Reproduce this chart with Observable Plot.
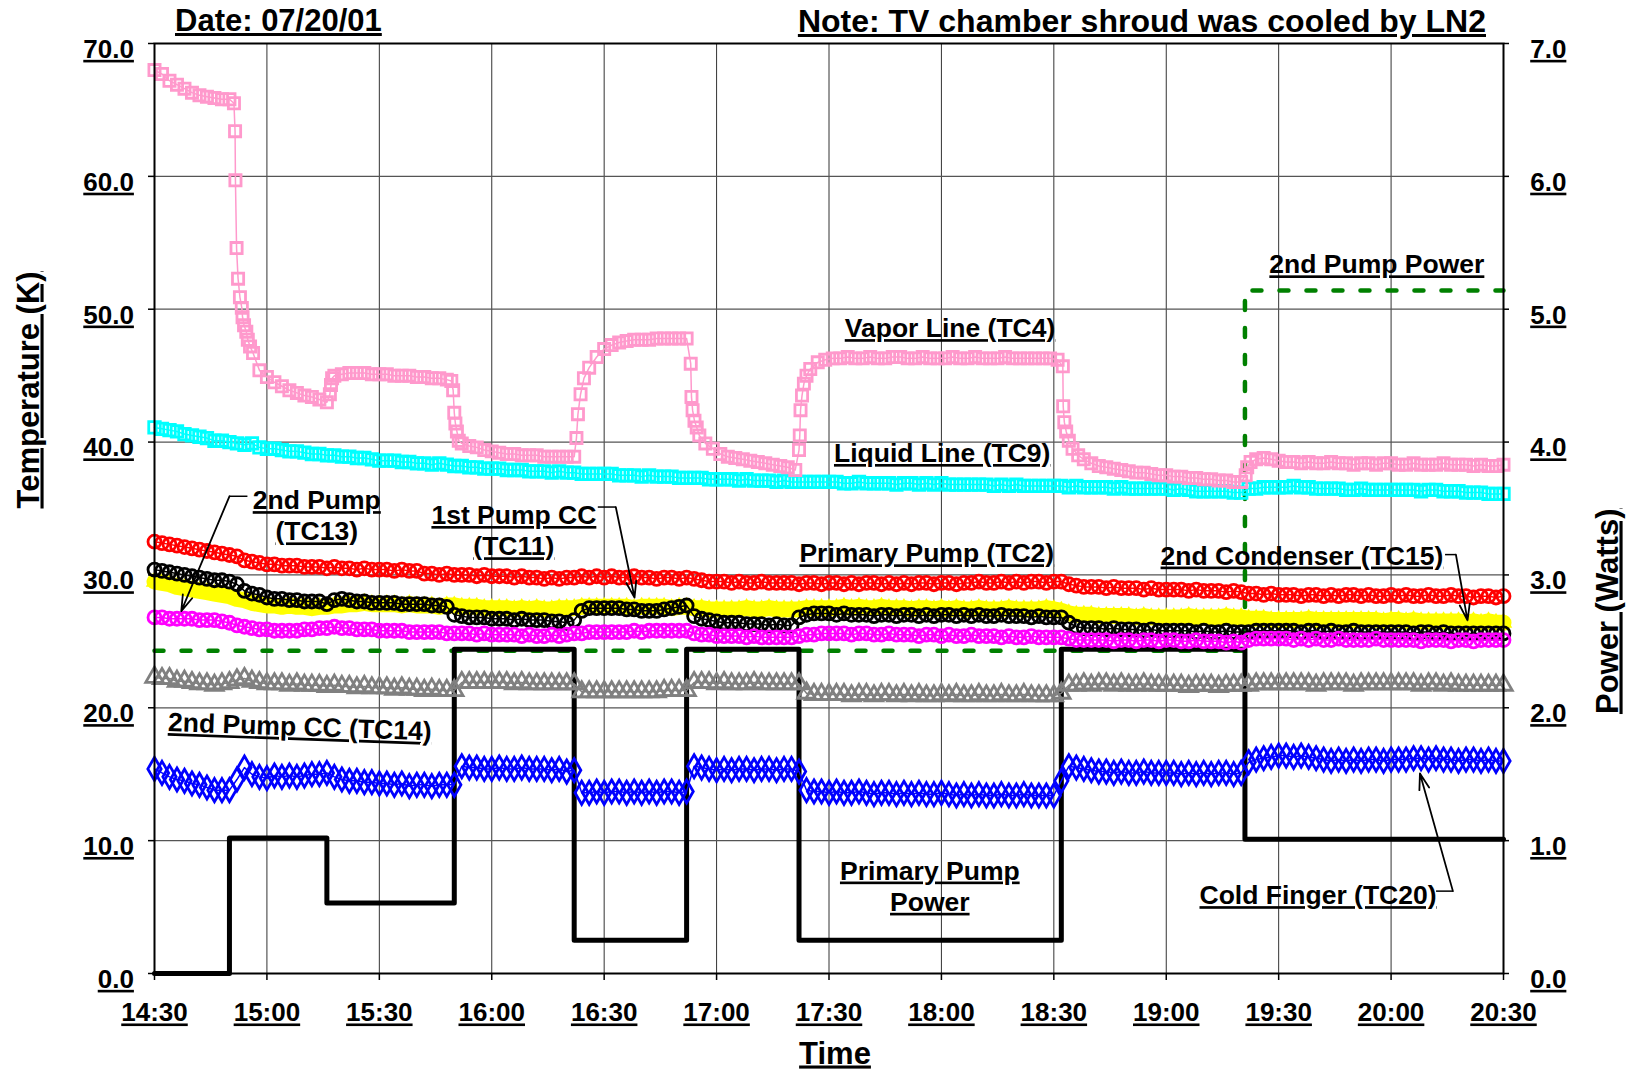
<!DOCTYPE html>
<html>
<head>
<meta charset="utf-8">
<script src="https://cdn.jsdelivr.net/npm/d3@7"></script>
<script src="https://cdn.jsdelivr.net/npm/@observablehq/plot@0.6"></script>
<style>
html, body { margin: 0; padding: 0; background: #fff; overflow: hidden; }
#header { position: relative; width: 1637px; height: 36px; font-family: "Liberation Sans", Arial, sans-serif; font-weight: bold; font-size: 31px; line-height: 36px; color: #000; }
#header span { position: absolute; top: 3px; text-decoration: underline; white-space: nowrap; }
#chart svg text { text-decoration: underline; }
</style>
</head>
<body>
<div id="header"><span style="left:175px">Date: 07/20/01</span><span style="right:151px;font-size:32px">Note: TV chamber shroud was cooled by LN2</span></div>
<div id="chart"></div>
<script>
// ---------- axes ----------
const timeTicks = [0, 30, 60, 90, 120, 150, 180, 210, 240, 270, 300, 330, 360]; // minutes after 14:30
const timeTickLabels = ["14:30","15:00","15:30","16:00","16:30","17:00","17:30","18:00","18:30","19:00","19:30","20:00","20:30"];
const tempTicks = [0, 10, 20, 30, 40, 50, 60, 70];
const tempTickLabels = ["0.0","10.0","20.0","30.0","40.0","50.0","60.0","70.0"];
const powerTickLabels = ["0.0","1.0","2.0","3.0","4.0","5.0","6.0","7.0"];
const kelvinPerWatt = 10; // right axis 0-7 W shares the 0-70 K range

// ---------- temperature series (K), logged every 2 minutes from 14:30 ----------
const sampleMinutes = d3.range(0, 361, 2);

const tc9 = [41.1,41.0,40.9,40.8,40.6,40.5,40.4,40.3,40.1,40.1,40.0,39.9,39.8,39.9,39.6,39.5,
39.5,39.4,39.3,39.3,39.2,39.1,39.1,39.0,39.0,38.9,38.9,38.8,38.8,38.7,38.6,
38.6,38.6,38.5,38.5,38.4,38.4,38.3,38.4,38.3,38.2,38.2,38.1,38.1,38.0,38.0,
38.0,37.9,37.9,37.9,37.8,37.8,37.8,37.7,37.8,37.7,37.7,37.6,37.6,37.6,37.6,
37.6,37.5,37.5,37.5,37.4,37.5,37.4,37.4,37.4,37.3,37.3,37.3,37.3,37.2,37.2,
37.2,37.2,37.1,37.2,37.1,37.1,37.1,37.0,37.1,37.0,37.0,37.0,37.0,37.0,37.0,
37.0,36.9,36.9,37.0,36.9,36.9,36.9,36.9,36.8,36.9,36.9,36.8,36.9,36.8,36.9,
36.8,36.8,36.8,36.8,36.8,36.8,36.7,36.8,36.7,36.8,36.7,36.7,36.7,36.7,36.7,
36.7,36.6,36.7,36.6,36.6,36.6,36.6,36.5,36.6,36.5,36.5,36.5,36.5,36.5,36.5,
36.4,36.5,36.4,36.3,36.3,36.3,36.3,36.3,36.2,36.2,36.5,36.5,36.6,36.6,36.6,
36.6,36.7,36.6,36.6,36.5,36.5,36.5,36.5,36.4,36.4,36.5,36.4,36.4,36.4,36.4,
36.4,36.4,36.4,36.3,36.4,36.4,36.3,36.3,36.3,36.2,36.2,36.2,36.1,36.1,36.1];

const tc2 = [32.5,32.4,32.3,32.2,32.1,32.0,31.9,31.8,31.7,31.6,31.5,31.4,31.1,31.0,30.9,30.8,
30.8,30.7,30.7,30.7,30.6,30.6,30.6,30.5,30.6,30.5,30.5,30.4,30.5,30.4,30.4,
30.4,30.3,30.4,30.3,30.3,30.1,30.1,30.0,30.1,30.0,30.0,30.0,29.9,30.0,29.9,
29.9,29.9,29.8,29.9,29.8,29.8,29.7,29.8,29.7,29.8,29.8,29.9,29.8,29.9,29.8,
29.9,29.8,29.8,29.9,29.8,29.8,29.7,29.8,29.8,29.7,29.8,29.7,29.6,29.5,29.5,
29.5,29.4,29.5,29.4,29.4,29.5,29.4,29.4,29.4,29.4,29.3,29.4,29.4,29.3,29.4,
29.4,29.3,29.4,29.3,29.4,29.4,29.3,29.4,29.3,29.4,29.3,29.4,29.4,29.3,29.4,
29.4,29.3,29.4,29.4,29.5,29.4,29.4,29.5,29.4,29.5,29.4,29.5,29.5,29.4,29.5,
29.5,29.3,29.2,29.1,29.1,29.1,29.0,29.1,29.0,29.0,29.0,28.9,29.0,28.9,28.9,
28.9,28.9,28.8,28.9,28.8,28.8,28.8,28.7,28.8,28.7,28.6,28.6,28.5,28.6,28.5,
28.5,28.5,28.4,28.5,28.5,28.4,28.5,28.4,28.5,28.5,28.4,28.5,28.4,28.4,28.5,
28.4,28.5,28.4,28.4,28.5,28.4,28.4,28.5,28.4,28.4,28.3,28.4,28.4,28.3,28.4];

const tc15 = [29.5,29.4,29.3,29.1,29.0,28.9,28.8,28.7,28.6,28.5,28.4,28.2,28.1,27.9,27.8,27.7,
27.7,27.6,27.7,27.6,27.6,27.5,27.6,27.6,27.7,27.7,27.8,27.8,27.9,27.8,27.8,
27.8,27.8,27.7,27.8,27.7,27.7,27.7,27.6,27.7,27.7,27.6,27.6,27.6,27.5,27.5,
27.5,27.5,27.4,27.5,27.4,27.5,27.4,27.4,27.5,27.5,27.5,27.6,27.6,27.6,27.6,
27.6,27.6,27.6,27.5,27.6,27.6,27.6,27.6,27.5,27.6,27.6,27.5,27.5,27.4,27.4,
27.4,27.4,27.4,27.5,27.4,27.4,27.5,27.4,27.4,27.4,27.4,27.5,27.5,27.5,27.5,
27.5,27.6,27.5,27.6,27.5,27.5,27.6,27.5,27.5,27.5,27.4,27.5,27.5,27.4,27.5,
27.4,27.5,27.4,27.4,27.5,27.4,27.4,27.4,27.5,27.4,27.4,27.4,27.4,27.5,27.4,
27.3,27.1,27.0,27.0,27.0,26.9,26.9,26.9,26.9,26.9,26.8,26.9,26.8,26.8,26.8,
26.8,26.8,26.9,26.8,26.8,26.8,26.8,26.9,26.8,26.8,26.7,26.7,26.7,26.6,26.6,
26.6,26.6,26.6,26.7,26.6,26.6,26.6,26.6,26.6,26.6,26.6,26.6,26.6,26.5,26.6,
26.6,26.5,26.6,26.5,26.5,26.5,26.5,26.5,26.5,26.4,26.5,26.4,26.5,26.4,26.4];

const tc11 = [30.4,30.3,30.2,30.1,30.0,29.9,29.8,29.7,29.6,29.6,29.5,29.3,28.8,28.6,28.5,28.3,
28.2,28.2,28.1,28.1,28.0,28.0,28.0,27.8,28.1,28.2,28.1,28.0,28.0,27.9,27.9,
27.9,27.9,27.8,27.8,27.8,27.8,27.7,27.7,27.6,27.0,26.9,26.8,26.8,26.8,26.7,
26.7,26.7,26.6,26.7,26.6,26.6,26.6,26.5,26.5,26.4,26.6,27.3,27.5,27.5,27.5,
27.5,27.5,27.4,27.4,27.3,27.3,27.3,27.4,27.5,27.6,27.7,26.9,26.7,26.6,26.5,
26.4,26.4,26.4,26.3,26.3,26.3,26.2,26.3,26.2,26.2,26.8,27.0,27.1,27.1,27.1,
27.0,27.1,27.0,27.0,27.0,26.9,27.0,27.0,26.9,27.0,27.0,26.9,27.0,26.9,27.0,
27.0,26.9,27.0,26.9,27.0,26.9,26.9,27.0,26.9,26.9,26.9,26.8,26.9,26.8,26.8,
26.8,26.4,26.1,26.0,26.0,26.0,25.9,26.0,25.9,25.9,25.9,25.8,25.9,25.8,25.8,
25.8,25.8,25.8,25.7,25.8,25.7,25.7,25.8,25.7,25.7,25.7,25.8,25.8,25.8,25.8,
25.8,25.8,25.7,25.8,25.8,25.7,25.8,25.7,25.7,25.8,25.7,25.7,25.7,25.7,25.7,
25.7,25.7,25.6,25.7,25.7,25.6,25.7,25.6,25.6,25.6,25.6,25.6,25.6,25.6,25.6];

const tc13 = [26.8,26.8,26.7,26.7,26.7,26.7,26.6,26.6,26.6,26.5,26.4,26.2,26.1,26.0,25.9,25.9,
25.8,25.8,25.8,25.8,25.9,25.9,26.0,26.0,26.1,26.0,26.0,25.9,25.9,25.9,25.8,
25.8,25.8,25.8,25.7,25.7,25.7,25.7,25.7,25.6,25.6,25.6,25.6,25.5,25.6,25.5,
25.5,25.5,25.5,25.4,25.5,25.4,25.4,25.5,25.4,25.5,25.6,25.6,25.7,25.7,25.7,
25.7,25.7,25.7,25.8,25.7,25.8,25.8,25.8,25.8,25.8,25.8,25.6,25.5,25.5,25.4,
25.4,25.4,25.4,25.3,25.4,25.3,25.3,25.3,25.3,25.3,25.4,25.5,25.5,25.6,25.6,
25.6,25.6,25.5,25.6,25.6,25.5,25.5,25.6,25.5,25.5,25.5,25.4,25.5,25.5,25.4,
25.5,25.4,25.4,25.5,25.4,25.4,25.4,25.3,25.4,25.3,25.3,25.4,25.3,25.3,25.3,
25.3,25.2,25.1,25.1,25.1,25.1,25.1,25.0,25.1,25.1,25.0,25.1,25.1,25.0,25.1,
25.1,25.0,25.0,25.1,25.0,25.0,25.0,24.9,25.0,24.9,25.1,25.2,25.2,25.2,25.2,
25.2,25.1,25.2,25.1,25.2,25.1,25.1,25.2,25.1,25.1,25.1,25.1,25.2,25.1,25.1,
25.1,25.1,25.1,25.0,25.1,25.1,25.1,25.0,25.1,25.1,25.0,25.1,25.1,25.1,25.1];

const tc14 = [22.3,22.2,22.2,22.0,22.0,21.9,21.8,21.8,21.7,21.8,21.9,22.1,22.2,22.0,21.9,21.8,
21.8,21.8,21.7,21.8,21.7,21.7,21.7,21.6,21.7,21.6,21.6,21.5,21.6,21.5,21.5,
21.5,21.4,21.5,21.4,21.4,21.3,21.4,21.3,21.3,21.3,21.9,21.9,21.9,21.9,21.9,
21.9,21.9,21.8,21.9,21.8,21.8,21.8,21.8,21.8,21.8,21.8,21.2,21.2,21.2,21.2,
21.2,21.2,21.2,21.2,21.2,21.2,21.2,21.3,21.3,21.3,21.3,21.9,21.9,21.9,21.8,
21.9,21.8,21.8,21.8,21.9,21.8,21.8,21.8,21.8,21.8,21.8,21.1,21.0,21.0,21.0,
21.0,21.0,20.9,21.0,21.0,20.9,21.0,21.0,20.9,21.0,20.9,21.0,20.9,20.9,21.0,
20.9,21.0,20.9,20.9,21.0,20.9,20.9,21.0,20.9,20.9,21.0,20.9,20.9,20.9,20.9,
21.1,21.7,21.7,21.8,21.7,21.8,21.8,21.7,21.8,21.7,21.7,21.8,21.7,21.7,21.7,
21.7,21.7,21.6,21.7,21.7,21.7,21.6,21.7,21.7,21.7,21.7,21.8,21.8,21.8,21.8,
21.8,21.8,21.8,21.8,21.7,21.8,21.8,21.8,21.8,21.7,21.8,21.8,21.8,21.8,21.8,
21.8,21.8,21.8,21.7,21.8,21.8,21.7,21.8,21.7,21.7,21.7,21.7,21.7,21.7,21.7];

const tc20 = [15.4,15.1,14.8,14.6,14.5,14.3,14.2,14.0,13.8,13.8,13.8,14.6,15.5,15.0,14.8,14.7,
14.9,14.8,14.9,14.8,14.9,15.0,15.0,15.1,14.8,14.6,14.5,14.5,14.4,14.4,14.3,
14.3,14.2,14.3,14.1,14.2,14.2,14.1,14.2,14.2,14.2,15.6,15.5,15.5,15.4,15.4,
15.5,15.4,15.4,15.5,15.4,15.4,15.4,15.3,15.4,15.2,15.3,13.6,13.6,13.7,13.6,
13.7,13.7,13.6,13.7,13.6,13.7,13.6,13.7,13.7,13.6,13.7,15.6,15.5,15.4,15.3,
15.4,15.3,15.4,15.4,15.3,15.4,15.4,15.3,15.4,15.4,15.2,13.8,13.7,13.7,13.6,
13.7,13.6,13.6,13.7,13.6,13.5,13.6,13.6,13.5,13.6,13.5,13.6,13.5,13.5,13.6,
13.5,13.4,13.5,13.4,13.5,13.4,13.4,13.5,13.4,13.4,13.5,13.4,13.4,13.4,13.4,
14.5,15.6,15.5,15.4,15.3,15.2,15.2,15.1,15.2,15.1,15.1,15.2,15.1,15.1,15.1,
15.1,15.0,15.1,15.0,15.1,15.0,15.1,15.1,15.0,15.1,15.9,16.1,16.2,16.3,16.4,
16.4,16.3,16.4,16.3,16.2,16.1,16.0,16.1,16.0,16.1,16.0,16.1,16.1,16.0,16.1,
16.1,16.1,16.2,16.2,16.1,16.2,16.1,16.1,16.0,16.1,16.1,16.0,16.1,16.0,16.0];

// Vapor line (TC4): irregular sample times (denser during the fast transitions)
const tc4Minutes = [0,2,4,6,8,10,12,14,16,18,20,
21.2,21.5,21.6,21.9,22.3,22.8,23.3,23.5,23.9,24.5,24.9,25.5,26.3,
28,30,32,34,36,38,40,42,44,46,
46.8,47.1,47.4,48,
50,52,54,56,58,60,62,64,66,68,70,72,74,76,78,79.2,
79.7,80,80.3,80.7,81.2,
82,84,86,88,90,92,94,96,98,100,102,104,106,108,110,112,
112.6,113,113.7,114.6,
116,118,120,122,124,126,128,130,132,134,136,138,140,142,
143.1,143.3,143.6,144.1,144.7,145.4,
147,149,151,153,155,157,159,161,163,165,167,169,171,
172,172.2,172.4,172.8,173.3,174,
175,177,179,181,
183,185,187,189,191,193,195,197,199,201,203,205,207,209,211,213,215,217,219,221,223,225,227,229,231,233,235,237,239,241,
242.4,242.5,242.8,243.3,244,245,246.5,
248,250,252,254,256,258,260,262,264,266,268,270,272,274,276,278,280,282,284,286,288,290,
291.2,291.6,292.5,
294,296,298,300,302,304,306,308,310,312,314,316,318,320,322,324,326,328,330,332,334,336,338,340,342,344,346,348,350,352,354,356,358,360];
const tc4 = [68.0,67.7,67.2,66.9,66.6,66.3,66.1,66.0,65.9,65.8,65.8,
65.5,63.4,59.7,54.6,52.3,50.9,50.1,49.4,48.8,48.3,47.7,47.2,46.7,
45.4,44.9,44.5,44.2,43.9,43.7,43.5,43.4,43.2,43.0,
43.6,44.3,44.8,45.0,
45.1,45.2,45.2,45.2,45.1,45.1,45.1,45.0,45.0,45.0,44.9,44.9,44.8,44.8,44.7,44.6,
43.9,42.2,41.4,40.8,40.1,
39.9,39.7,39.6,39.4,39.3,39.2,39.1,39.1,39.0,39.0,39.0,38.9,38.9,38.9,38.9,38.9,
40.3,42.1,43.6,44.8,
45.6,46.4,47.0,47.3,47.5,47.6,47.7,47.7,47.7,47.8,47.8,47.8,47.8,47.8,
45.9,43.4,42.4,41.6,41.1,40.5,
39.9,39.5,39.1,38.9,38.8,38.7,38.6,38.5,38.4,38.3,38.2,38.1,37.9,
39.4,40.5,42.4,43.5,44.4,45.0,
45.5,46.0,46.2,46.3,
46.3,46.4,46.3,46.3,46.4,46.3,46.3,46.4,46.4,46.3,46.3,46.4,46.3,46.3,46.3,46.4,46.3,46.3,46.4,46.3,46.3,46.3,46.4,46.3,46.3,46.3,46.3,46.3,46.3,46.2,
45.7,42.7,41.5,40.8,40.1,39.5,39.0,
38.7,38.4,38.2,38.1,38.0,37.9,37.8,37.7,37.7,37.6,37.5,37.5,37.4,37.4,37.3,37.3,37.2,37.2,37.1,37.1,37.0,37.0,
37.5,38.1,38.5,
38.7,38.8,38.7,38.6,38.5,38.5,38.4,38.5,38.4,38.4,38.5,38.4,38.4,38.3,38.4,38.4,38.3,38.4,38.4,38.3,38.3,38.4,38.3,38.3,38.3,38.4,38.3,38.3,38.3,38.2,38.3,38.2,38.2,38.3];

// ---------- heater power (W), step changes ----------
const primaryPowerMinutes = [0, 20, 46, 80, 112, 142, 172, 242, 291, 360];
const primaryPowerWatts   = [0, 1.02, 0.53, 2.44, 0.25, 2.44, 0.25, 2.44, 1.01, 1.01];
const secondPowerMinutes  = [0, 291, 360];
const secondPowerWatts    = [2.43, 5.14, 5.14];

// ---------- annotations (time in minutes after 14:30, temperature in K) ----------
const labelText   = ["Vapor Line (TC4)", "Liquid Line (TC9)", "Primary Pump (TC2)", "2nd Condenser (TC15)", "2nd Pump\n(TC13)", "1st Pump CC\n(TC11)", "2nd Pump Power", "2nd Pump CC (TC14)", "Primary Pump\nPower", "Cold Finger (TC20)"];
const labelMinute = [212.3, 210.2, 206.1, 306.2, 43.3, 95.9, 326.2, 38.7, 206.9, 310.5];
const labelKelvin = [47.9, 38.5, 30.95, 30.78, 32.6, 31.48, 52.7, 17.9, 4.72, 5.22];
const labelTilt   = [0, 0, 0, 0, 0, 0, 0, 2, 0, 0];
const leaderStartMinute = [24.8, 118.3, 344.4, 342.0];
const leaderElbowMinute = [20.0, 123.1, 347.3, 346.5];
const leaderKelvin      = [35.92, 35.11, 31.53, 6.2];
const arrowTipMinute    = [7.15, 128.1, 350.4, 337.7];
const arrowTipKelvin    = [27.28, 28.29, 26.58, 15.06];

// ---------- build tables ----------
const rows = (mins, vals) => vals.map((v, i) => ({t: mins[i], v}));
const powerRows = (mins, watts) => watts.map((w, i) => ({t: mins[i], v: w * kelvinPerWatt}));

const series = [
  {data: rows(sampleMinutes, tc14), color: "#808080", symbol: "triangle", r: 6.5},
  {data: rows(sampleMinutes, tc9),  color: "#00FFFF", symbol: "square", r: 6.5},
  {data: rows(tc4Minutes, tc4),     color: "#FF99CC", symbol: "square", r: 6.3},
  {data: rows(sampleMinutes, tc2),  color: "#FF0000", symbol: "circle", r: 6.5},
  {data: rows(sampleMinutes, tc15), color: "#FFFF00", symbol: "band", r: 6},
  {data: rows(sampleMinutes, tc11), color: "#000000", symbol: "circle", r: 6.5},
  {data: rows(sampleMinutes, tc13), color: "#FF00FF", symbol: "circle", r: 6.5},
  {data: rows(sampleMinutes, tc20), color: "#0000FF", symbol: "diamond", r: 7}
];

const seriesMarks = series.flatMap(s => s.symbol === "band"
  ? [Plot.line(s.data, {x: "t", y: "v", stroke: s.color, strokeWidth: 16}),
     Plot.dot(s.data, {x: "t", y: "v", symbol: "triangle", r: 6.5, fill: s.color})]
  : [Plot.line(s.data, {x: "t", y: "v", stroke: s.color, strokeWidth: 1.5}),
     Plot.dot(s.data, {x: "t", y: "v", symbol: s.symbol, r: s.r, fill: "none", stroke: s.color, strokeWidth: 2.8})]);

const labelIdx = labelText.map((_, i) => i);
const arrowIdx = arrowTipMinute.map((_, i) => i);
const tempFmt = d => tempTickLabels[tempTicks.indexOf(d)];
const powerFmt = d => powerTickLabels[tempTicks.indexOf(d)];
const timeFmt = d => timeTickLabels[timeTicks.indexOf(d)];

const chart = Plot.plot({
  width: 1637,
  height: 1037,
  marginLeft: 154,
  marginRight: 134,
  marginTop: 7,
  marginBottom: 100,
  x: {domain: [0, 360]},
  y: {domain: [0, 70]},
  style: {fontFamily: "'Liberation Sans', Arial, sans-serif", fontSize: "26px", fontWeight: "bold", color: "#000", background: "#fff", overflow: "visible"},
  marks: [
    Plot.gridX({ticks: timeTicks, stroke: "#333", strokeOpacity: 1, strokeWidth: 1}),
    Plot.gridY({ticks: tempTicks, stroke: "#555", strokeOpacity: 1, strokeWidth: 1.2}),
    Plot.line(powerRows(secondPowerMinutes, secondPowerWatts), {x: "t", y: "v", curve: "step-after", stroke: "#008000", strokeWidth: 4.5, strokeDasharray: "9,18"}),
    Plot.line(powerRows(primaryPowerMinutes, primaryPowerWatts), {x: "t", y: "v", curve: "step-after", stroke: "#000", strokeWidth: 5}),
    ...seriesMarks,
    Plot.frame({stroke: "#000", strokeWidth: 2}),
    // left axis
    Plot.axisY({ticks: tempTicks, tickSize: 6, fill: "none", strokeWidth: 1.5, label: null}),
    Plot.axisY({ticks: tempTicks, tickFormat: tempFmt, tickSize: 0, tickPadding: 20.6, dy: 6, label: null}),
    // right axis (power)
    Plot.axisY({anchor: "right", ticks: tempTicks, tickSize: 5, fill: "none", strokeWidth: 1.5, label: null}),
    Plot.axisY({anchor: "right", ticks: tempTicks, tickFormat: powerFmt, tickSize: 0, tickPadding: 26.7, dy: 6, label: null}),
    // bottom axis
    Plot.axisX({ticks: timeTicks, tickFormat: timeFmt, tickSize: 7, tickPadding: 22.5, strokeWidth: 1.5, label: null}),
    // axis titles
    Plot.text(["Temperature (K)"], {text: d => d, frameAnchor: "left", rotate: -90, dx: -116, lineAnchor: "bottom", fontSize: 31}),
    Plot.text(["Power (Watts)"], {text: d => d, frameAnchor: "right", rotate: -90, dx: 114, lineAnchor: "bottom", fontSize: 31}),
    Plot.text(["Time"], {text: d => d, frameAnchor: "bottom", dx: 6, dy: 90, lineAnchor: "bottom", fontSize: 31}),
    // series labels
    Plot.text(labelIdx, {x: i => labelMinute[i], y: i => labelKelvin[i], text: i => labelText[i], rotate: i => labelTilt[i], fontSize: 26.5, lineAnchor: "bottom", lineHeight: 1.18, textAnchor: "middle", fill: "#000", ariaLabel: "annotation"}),
    Plot.link(arrowIdx, {x1: i => leaderStartMinute[i], y1: i => leaderKelvin[i], x2: i => leaderElbowMinute[i], y2: i => leaderKelvin[i], stroke: "#000", strokeWidth: 1.5}),
    Plot.arrow(arrowIdx, {x1: i => leaderElbowMinute[i], y1: i => leaderKelvin[i], x2: i => arrowTipMinute[i], y2: i => arrowTipKelvin[i], stroke: "#000", strokeWidth: 1.8, headLength: 14, headAngle: 35})
  ]
});

document.getElementById("chart").append(chart);

// white boxes behind the series labels (as in the original text boxes)
chart.querySelectorAll('g[aria-label="annotation"]').forEach(g => {
  const texts = Array.from(g.querySelectorAll("text"));
  const first = g.firstChild;
  texts.forEach(t => {
    const b = t.getBBox();
    const r = document.createElementNS("http://www.w3.org/2000/svg", "rect");
    r.setAttribute("x", b.x - 10);
    r.setAttribute("y", b.y - 11);
    r.setAttribute("width", b.width + 20);
    r.setAttribute("height", b.height + 21);
    r.setAttribute("fill", "#fff");
    r.setAttribute("stroke", "none");
    const tr = t.getAttribute("transform");
    if (tr) r.setAttribute("transform", tr);
    g.insertBefore(r, first);
  });
});
</script>
</body>
</html>
